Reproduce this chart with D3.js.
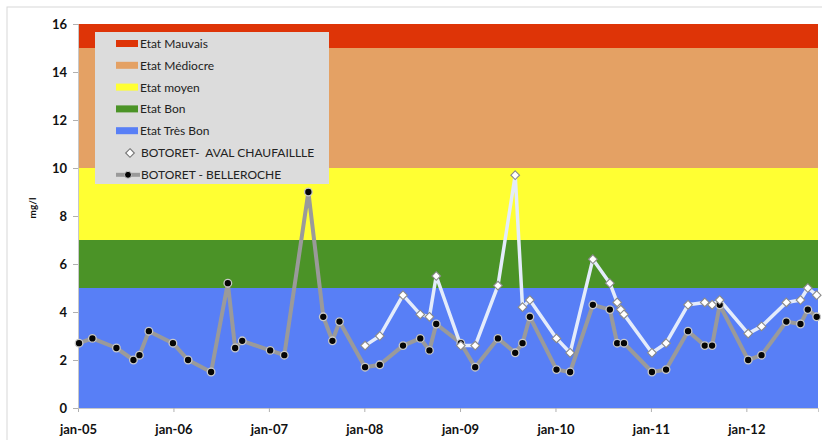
<!DOCTYPE html>
<html>
<head>
<meta charset="utf-8">
<script src="https://cdn.jsdelivr.net/npm/d3@7"></script>
<style>
  body { margin: 0; background: #fff; }
  svg { font-family: Lato, "Open Sans", sans-serif; }
</style>
</head>
<body>
<div class="chart"></div>
<script>
// quality bands (mg/l)
var bandNames = ["Etat Très Bon", "Etat Bon", "Etat moyen", "Etat Médiocre", "Etat Mauvais"];
var bandLow = [0, 5, 7, 10, 15];
var bandHigh = [5, 7, 10, 15, 16];
var bandColors = ["#587ff6", "#4b9327", "#ffff33", "#e4a164", "#de3407"];

// BOTORET - BELLEROCHE
var bellDates = ["2005-01-05", "2005-02-25", "2005-05-28", "2005-08-01", "2005-08-24", "2005-09-29",
  "2005-12-30", "2006-02-26", "2006-05-25", "2006-07-28", "2006-08-25", "2006-09-21",
  "2007-01-06", "2007-03-01", "2007-06-01", "2007-07-28", "2007-09-01", "2007-09-28",
  "2008-01-04", "2008-02-29", "2008-05-28", "2008-08-02", "2008-09-06", "2008-10-02",
  "2009-01-04", "2009-02-28", "2009-05-26", "2009-07-31", "2009-08-28", "2009-09-25",
  "2010-01-05", "2010-02-26", "2010-05-24", "2010-07-28", "2010-08-25", "2010-09-20",
  "2011-01-05", "2011-02-28", "2011-05-23", "2011-07-26", "2011-08-23", "2011-09-21",
  "2012-01-08", "2012-02-28", "2012-06-02", "2012-07-26", "2012-08-23", "2012-09-26"];
var bellValues = [2.7, 2.9, 2.5, 2.0, 2.2, 3.2,
  2.7, 2.0, 1.5, 5.2, 2.5, 2.8,
  2.4, 2.2, 9.0, 3.8, 2.8, 3.6,
  1.7, 1.8, 2.6, 2.9, 2.4, 3.5,
  2.7, 1.7, 2.9, 2.3, 2.7, 3.8,
  1.6, 1.5, 4.3, 4.1, 2.7, 2.7,
  1.5, 1.6, 3.2, 2.6, 2.6, 4.3,
  2.0, 2.2, 3.6, 3.5, 4.1, 3.8];

// BOTORET- AVAL CHAUFAILLLE
var avalDates = ["2008-01-04", "2008-02-29", "2008-05-28", "2008-08-02", "2008-09-06", "2008-10-02",
  "2009-01-04", "2009-02-28", "2009-05-26", "2009-07-31", "2009-08-28", "2009-09-25",
  "2010-01-05", "2010-02-26", "2010-05-24", "2010-07-28", "2010-08-25", "2010-09-08", "2010-09-20",
  "2011-01-05", "2011-02-28", "2011-05-23", "2011-07-26", "2011-08-23", "2011-09-21",
  "2012-01-08", "2012-02-28", "2012-06-02", "2012-07-26", "2012-08-23", "2012-09-26"];
var avalValues = [2.6, 3.0, 4.7, 3.9, 3.8, 5.5,
  2.6, 2.6, 5.1, 9.7, 4.2, 4.5,
  2.9, 2.3, 6.2, 5.2, 4.4, 4.1, 3.9,
  2.3, 2.7, 4.3, 4.4, 4.3, 4.5,
  3.1, 3.4, 4.4, 4.5, 5.0, 4.7];

var yTicks = [0, 2, 4, 6, 8, 10, 12, 14, 16];

var parse = d3.timeParse("%Y-%m-%d");
var bell = bellDates.map(function (d, i) { return { date: parse(d), value: bellValues[i] }; });
var aval = avalDates.map(function (d, i) { return { date: parse(d), value: avalValues[i] }; });

var svg = d3.select(".chart").append("svg").attr("width", 822).attr("height", 440);

// outer frame
svg.append("rect")
  .attr("x", 7).attr("y", 7)
  .attr("width", 830).attr("height", 450)
  .attr("fill", "none")
  .attr("stroke", "#d8d8d8")
  .attr("stroke-width", 1);

var x = d3.scaleTime()
  .domain([new Date(2005, 0, 1), new Date(2012, 9, 1)])
  .range([78, 818]);
var y = d3.scaleLinear().domain([0, 16]).range([408, 24]);

// bands
svg.selectAll("rect.band")
  .data(bandNames)
  .enter().append("rect")
  .attr("class", "band")
  .attr("x", x.range()[0])
  .attr("width", x.range()[1] - x.range()[0])
  .attr("y", function (d, i) { return y(bandHigh[i]); })
  .attr("height", function (d, i) { return y(bandLow[i]) - y(bandHigh[i]); })
  .attr("fill", function (d, i) { return bandColors[i]; });

// axes
var xAxis = svg.append("g")
  .attr("transform", "translate(0,408)")
  .call(d3.axisBottom(x)
    .ticks(d3.timeYear.every(1))
    .tickFormat(d3.timeFormat("jan-%y"))
    .tickSize(4)
    .tickPadding(13));
var yAxis = svg.append("g")
  .attr("transform", "translate(78,0)")
  .call(d3.axisLeft(y).tickValues(yTicks).tickSize(5).tickPadding(6));

[xAxis, yAxis].forEach(function (a) {
  a.select(".domain").attr("stroke", "#c8c8c8");
  a.selectAll(".tick line").attr("stroke", "#b0b0b0");
  a.selectAll(".tick text")
    .attr("fill", "#111")
    .attr("font-size", 13)
    .attr("font-weight", "bold")
    .attr("font-family", "Lato, sans-serif");
});

svg.append("text")
  .text("mg/l")
  .attr("transform", "translate(36,208) rotate(-90)")
  .attr("text-anchor", "middle")
  .attr("font-size", 10)
  .attr("font-weight", "bold")
  .attr("fill", "#111");

var line = d3.line()
  .x(function (d) { return x(d.date); })
  .y(function (d) { return y(d.value); });

// grey series
svg.append("path")
  .datum(bell)
  .attr("d", line)
  .attr("fill", "none")
  .attr("stroke", "#9a9a9a")
  .attr("stroke-width", 4)
  .attr("stroke-linejoin", "round");

// white series
svg.append("path")
  .datum(aval)
  .attr("d", line)
  .attr("fill", "none")
  .attr("stroke", "#e4ecfb")
  .attr("stroke-width", 3.5)
  .attr("stroke-linejoin", "round");

svg.selectAll("circle.bell")
  .data(bell)
  .enter().append("circle")
  .attr("class", "bell")
  .attr("cx", function (d) { return x(d.date); })
  .attr("cy", function (d) { return y(d.value); })
  .attr("r", 3.8)
  .attr("fill", "#050505")
  .attr("stroke", "#c9c9c9")
  .attr("stroke-width", 1.3);

var diamond = d3.symbol().type(d3.symbolDiamond2).size(48);
svg.selectAll("path.aval")
  .data(aval)
  .enter().append("path")
  .attr("class", "aval")
  .attr("d", diamond)
  .attr("transform", function (d) { return "translate(" + x(d.date) + "," + y(d.value) + ")"; })
  .attr("fill", "#ffffff")
  .attr("stroke", "#8a8a8a")
  .attr("stroke-width", 1.1);

// legend
var legend = svg.append("g");
legend.append("rect")
  .attr("x", 95).attr("y", 32)
  .attr("width", 234).attr("height", 152)
  .attr("fill", "#dcdcdc");

var legendBands = bandNames.slice().reverse();
var legendColors = bandColors.slice().reverse();
legendBands.forEach(function (name, i) {
  var ly = 44 + i * 21.8;
  legend.append("rect")
    .attr("x", 116).attr("y", ly - 4)
    .attr("width", 22).attr("height", 7)
    .attr("fill", legendColors[i]);
  legend.append("text")
    .text(name)
    .attr("x", 140).attr("y", ly + 4)
    .attr("font-size", 12)
    .attr("fill", "#222");
});

var ly6 = 44 + 5 * 21.8;
legend.append("path")
  .attr("d", diamond)
  .attr("transform", "translate(130," + ly6 + ")")
  .attr("fill", "#fff")
  .attr("stroke", "#777")
  .attr("stroke-width", 1.1);
legend.append("text")
  .text("BOTORET-  AVAL CHAUFAILLLE")
  .attr("x", 141).attr("y", ly6 + 4)
  .attr("font-size", 12)
  .attr("fill", "#222")
  .style("white-space", "pre");

var ly7 = 44 + 6 * 21.8;
legend.append("line")
  .attr("x1", 116).attr("x2", 140)
  .attr("y1", ly7).attr("y2", ly7)
  .attr("stroke", "#9a9a9a")
  .attr("stroke-width", 4);
legend.append("circle")
  .attr("cx", 128).attr("cy", ly7)
  .attr("r", 3.5)
  .attr("fill", "#050505")
  .attr("stroke", "#c9c9c9");
legend.append("text")
  .text("BOTORET - BELLEROCHE")
  .attr("x", 141).attr("y", ly7 + 4)
  .attr("font-size", 12)
  .attr("fill", "#222");
</script>
</body>
</html>
